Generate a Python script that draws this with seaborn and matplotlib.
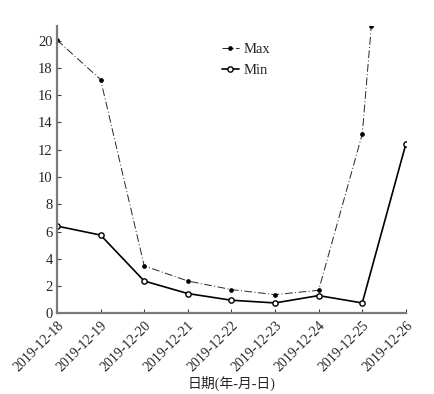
import matplotlib
matplotlib.use("Agg")
import matplotlib.pyplot as plt
import matplotlib.dates as mdates
import seaborn as sns
import pandas as pd

# ---- data ----
max_dates = ["2019-12-18 00:00", "2019-12-19 00:00", "2019-12-20 00:00", "2019-12-21 00:00",
             "2019-12-22 00:00", "2019-12-23 00:00", "2019-12-24 00:00", "2019-12-25 00:00",
             "2019-12-25 05:00"]
max_values = [20.05, 17.15, 3.48, 2.37, 1.74, 1.37, 1.69, 13.15, 21.1]

min_dates = ["2019-12-18", "2019-12-19", "2019-12-20", "2019-12-21", "2019-12-22",
             "2019-12-23", "2019-12-24", "2019-12-25", "2019-12-26"]
min_values = [6.4, 5.74, 2.37, 1.45, 0.96, 0.76, 1.3, 0.76, 12.42]

series_labels = ["Max", "Min"]
x_label = "日期(年-月-日)"
y_ticks = [0, 2, 4, 6, 8, 10, 12, 14, 16, 18, 20]

df_max = pd.DataFrame({"date": pd.to_datetime(max_dates, format="%Y-%m-%d %H:%M"),
                       "value": max_values})
df_min = pd.DataFrame({"date": pd.to_datetime(min_dates, format="%Y-%m-%d"),
                       "value": min_values})

sns.set_style("ticks")
plt.rcParams["font.family"] = ["Liberation Serif", "Noto Sans CJK SC"]

fig = plt.figure(figsize=(4.35, 3.94), dpi=100)
ax = fig.add_axes([0.131, 0.2048, 0.802, 0.730])

sns.lineplot(data=df_max, x="date", y="value", ax=ax, color="#262626",
             linewidth=0.7, linestyle=(0, (8, 2.5, 1, 2.5)), marker="o",
             markersize=2.6, markerfacecolor="black", markeredgecolor="black",
             label=series_labels[0])
sns.lineplot(data=df_min, x="date", y="value", ax=ax, color="black",
             linewidth=1.2, marker="o", markersize=3.8,
             markerfacecolor="white", markeredgecolor="black",
             markeredgewidth=1.0, label=series_labels[1])

ax.set_xlim(df_min["date"].iloc[0], df_min["date"].iloc[-1])
ax.set_ylim(0, 21.1)
ax.set_yticks(y_ticks)
ax.xaxis.set_major_locator(mdates.DayLocator())
ax.xaxis.set_major_formatter(mdates.DateFormatter("%Y-%m-%d"))
for lab in ax.get_xticklabels():
    lab.set_rotation(45)
    lab.set_ha("right")
    lab.set_rotation_mode("anchor")

ax.tick_params(axis="y", direction="in", length=3, width=0.8,
               color="#404040", labelsize=10.5, pad=3)
ax.tick_params(axis="x", direction="in", length=3, width=0.8,
               color="#404040", labelsize=10, pad=4)
for s in ["top", "right"]:
    ax.spines[s].set_visible(False)
for s in ["left", "bottom"]:
    ax.spines[s].set_color("#7a7a7a")
    ax.spines[s].set_linewidth(1.6)

ax.set_xlabel(x_label, fontsize=10)
ax.xaxis.set_label_coords(0.5, -0.218)
ax.set_ylabel("")

leg = ax.legend(loc="upper left", bbox_to_anchor=(0.455, 0.96), frameon=False,
                fontsize=10.5, handlelength=1.2, handletextpad=0.3,
                labelspacing=0.5, borderaxespad=0)

fig.savefig("out.png", dpi=100)
